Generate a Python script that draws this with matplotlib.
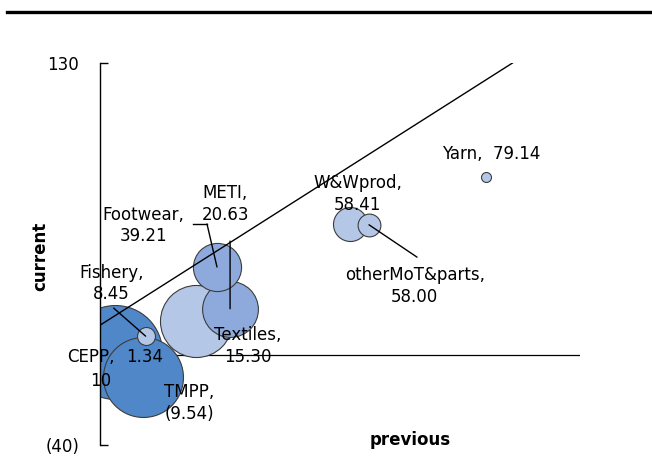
import matplotlib.pyplot as plt
from matplotlib.lines import Line2D
from matplotlib.ticker import FuncFormatter
import numpy as np

# sector data in drawing order: previous vs current value, bubble weight
sectors = ['CEPP', 'TMPP', 'Textiles', 'METI', 'Footwear', 'W&Wprod',
           'otherMoT&parts', 'Fishery', 'Yarn']
previous = [17.5, 25.5, 40.5, 50.1, 46.4, 84.1, 89.4, 26.2, 122.5]
current = [1.34, -9.54, 15.30, 20.63, 39.21, 58.41, 58.00, 8.45, 79.14]
weight = [22.1, 16.0, 13.0, 7.8, 5.8, 2.9, 1.3, 0.81, 0.25]
shade = ['dark', 'dark', 'light', 'mid', 'mid', 'light', 'light', 'light', 'light']

palette = {'dark': '#4f87c9', 'mid': '#8eaadc', 'light': '#b4c7e7'}

fig = plt.figure(figsize=(6.52, 4.68), dpi=100)
ax = fig.add_axes([100 / 652, 23 / 468, 480 / 652, 382 / 468])

ax.set_xlim(13.3, 149.1)
ax.set_ylim(-40, 130)

# horizontal axis at zero, behind the bubbles
ax.axhline(0, color='black', lw=0.9, zorder=1)

for i in range(len(sectors)):
    ax.scatter(previous[i], current[i], s=weight[i] * 207,
               color=palette[shade[i]], edgecolor='#3c3c3c', linewidth=0.8,
               zorder=2)

# reference line: current == previous
ax.plot([13.3, 130], [13.3, 130], color='black', lw=1.0, zorder=3)

fs = 12
# label text offsets (points) from each bubble centre
labels = {
    'CEPP': [('CEPP,', (-17.3, -3.6)), ('1.34', (21.6, -3.6)), ('10', (-10, -20.9))],
    'TMPP': [('TMPP,\n(9.54)', (33, -19.2))],
    'Fishery': [('Fishery,\n8.45', (-24.5, 38))],
    'Textiles': [('Textiles,\n15.30', (37.4, -18.3))],
    'METI': [('METI,\n20.63', (-3.6, 75.3))],
    'Footwear': [('Footwear,\n39.21', (-53, 30))],
    'W&Wprod': [('W&Wprod,\n58.41', (5.5, 21.6))],
    'otherMoT&parts': [('otherMoT&parts,\n58.00', (33, -44.1))],
    'Yarn': [('Yarn,  79.14', (3.6, 16.7))],
}
# leader lines (points) from bubble centre
leaders = {
    'Fishery': [(-23, 20.2)],
    'Footwear': [(-7.2, 31), (-17.3, 31)],
    'METI': [(0, 48.7)],
    'otherMoT&parts': [(34.6, -23.3)],
}

for i, name in enumerate(sectors):
    xy = (previous[i], current[i])
    for text, off in labels[name]:
        ax.annotate(text, xy=xy, xytext=off, textcoords='offset points',
                    ha='center', va='center', fontsize=fs, linespacing=1.25,
                    zorder=5, annotation_clip=False)
    if name in leaders:
        pts = leaders[name]
        ax.annotate('', xy=xy, xytext=pts[0], textcoords='offset points',
                    arrowprops=dict(arrowstyle='-', shrinkA=0, shrinkB=0,
                                    lw=1.0, color='black'), zorder=4)
        start = ax.transData.transform(xy)
        for a, b in zip(pts[:-1], pts[1:]):
            p1 = start + np.array(a) / 0.72
            p2 = start + np.array(b) / 0.72
            q = ax.transData.inverted().transform([p1, p2])
            ax.plot(q[:, 0], q[:, 1], color='black', lw=1.0, zorder=4)

for side in ['top', 'right', 'bottom']:
    ax.spines[side].set_visible(False)
ax.spines['left'].set_linewidth(1.0)
ax.set_xticks([])
ax.set_yticks([-40, 130])
ax.yaxis.set_major_formatter(
    FuncFormatter(lambda v, p: f'({abs(v):.0f})' if v < 0 else f'{v:.0f}'))
ax.tick_params(axis='y', direction='in', length=6, width=1.0, pad=15,
               labelsize=fs)

fig.text(40 / 652, 1 - 256 / 468, 'current', rotation=90, ha='center',
         va='center', fontsize=fs, fontweight='bold')
fig.text(410 / 652, 1 - 440 / 468, 'previous', ha='center', va='center',
         fontsize=fs, fontweight='bold')

# heavy rule across the top
fig.add_artist(Line2D([7 / 652, 1], [1 - 12 / 468, 1 - 12 / 468],
                      color='black', lw=2.4))

fig.savefig('out.png', dpi=100)
